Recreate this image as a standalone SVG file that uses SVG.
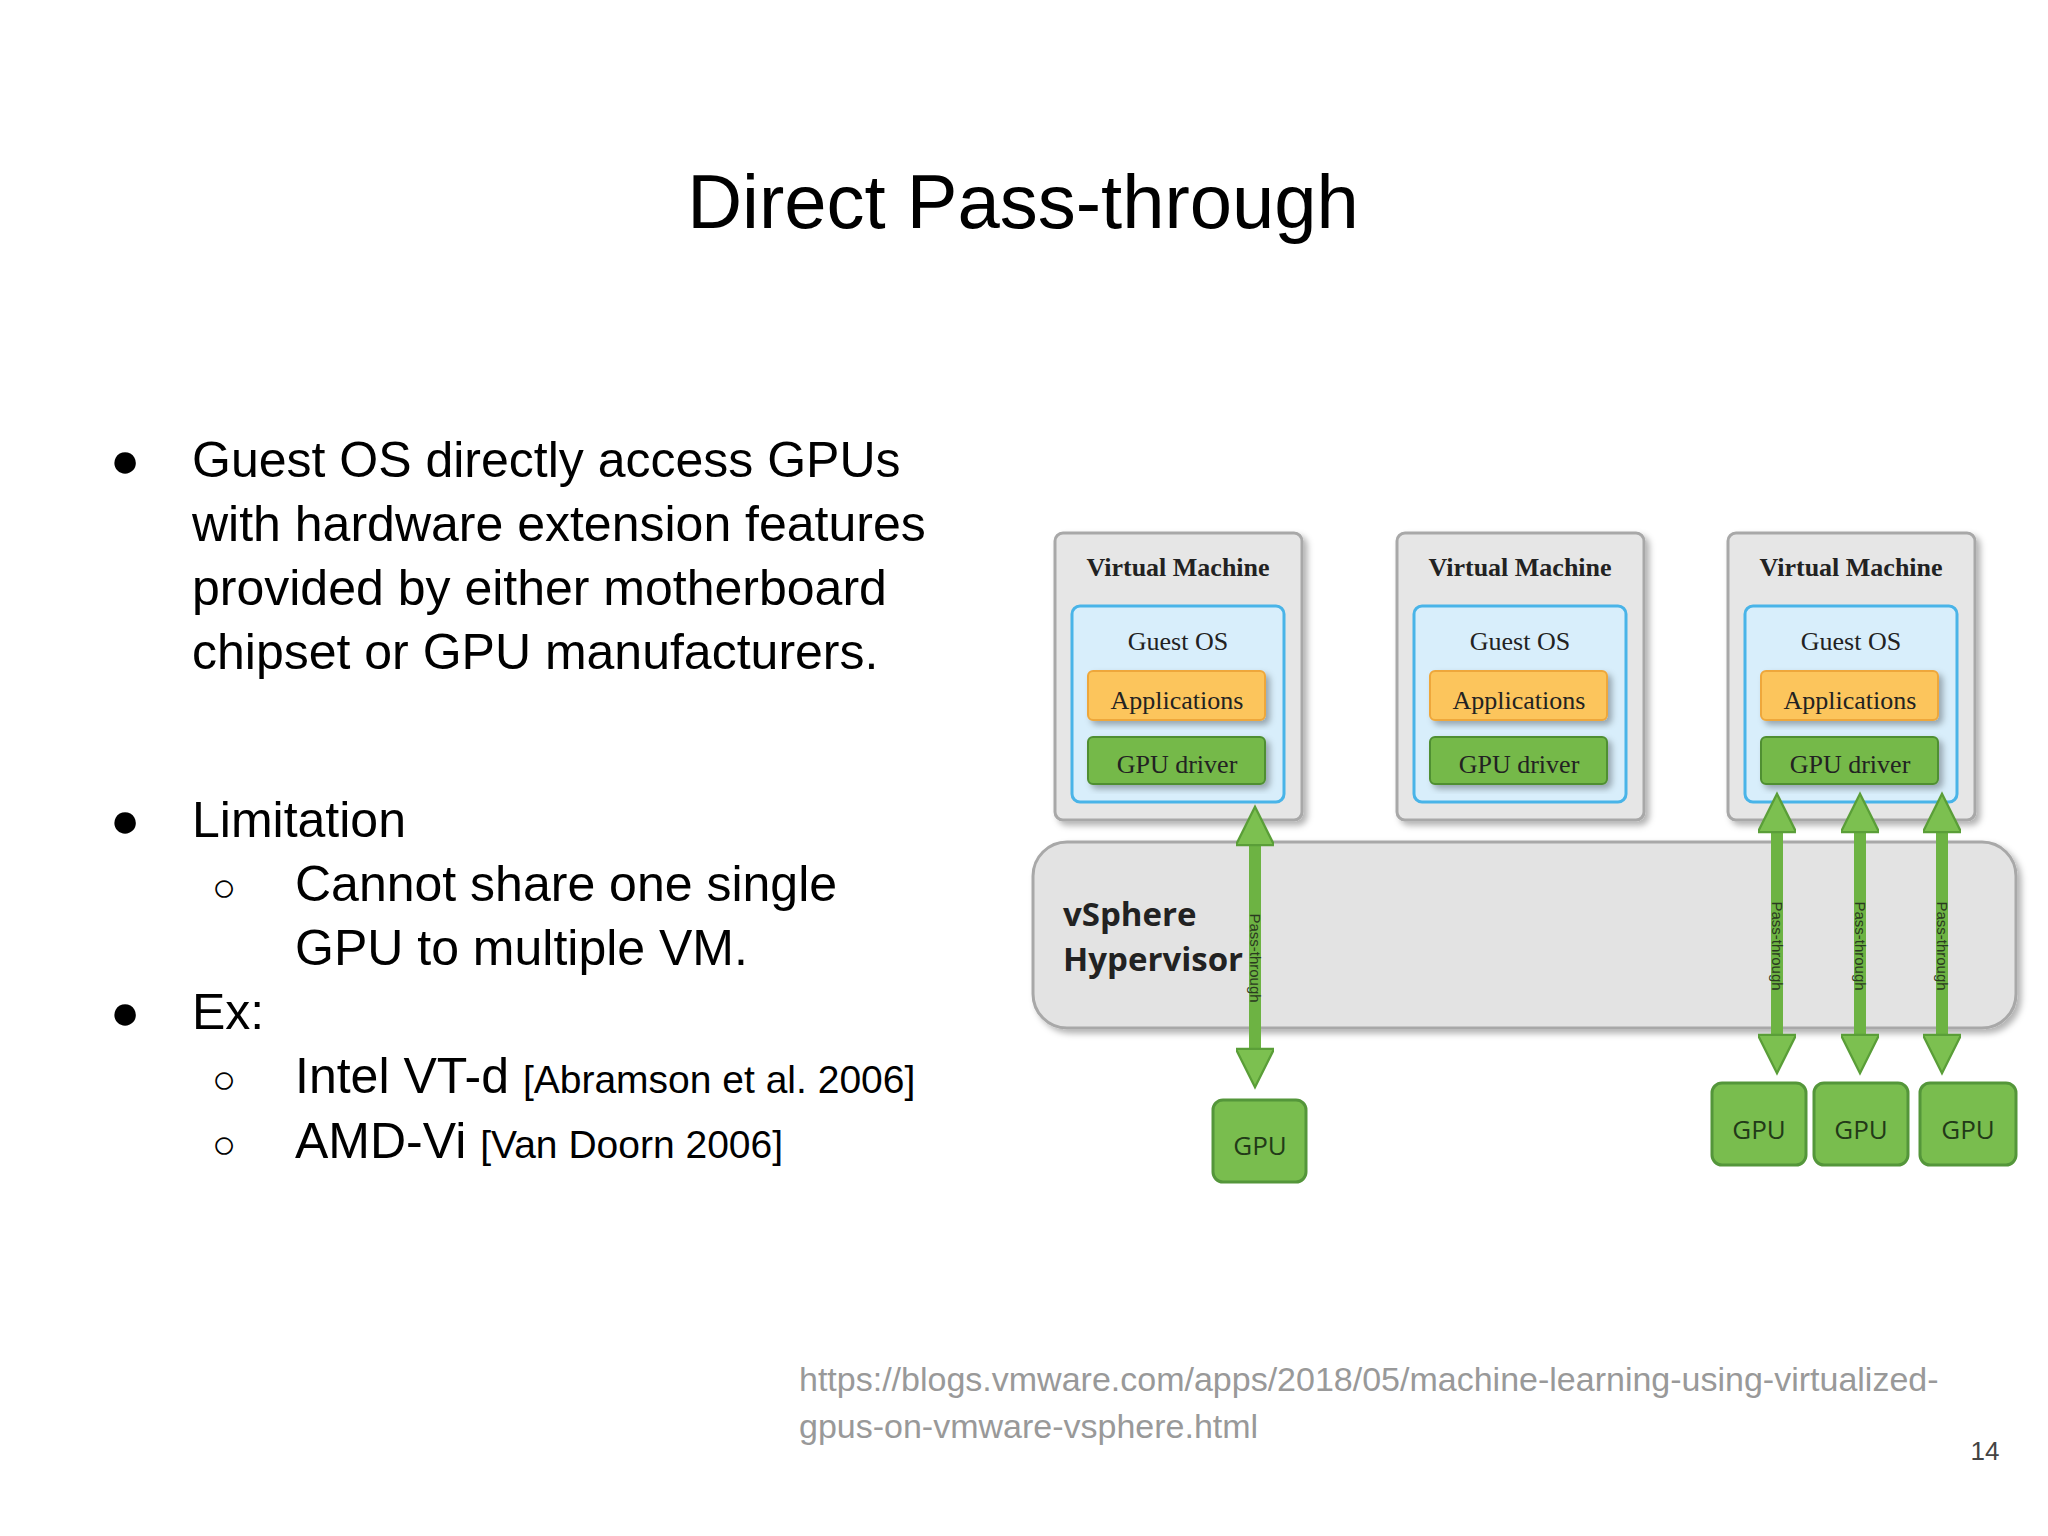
<svg xmlns="http://www.w3.org/2000/svg" width="2048" height="1536" viewBox="0 0 2048 1536">
<defs>
<filter id="sh" x="-10%" y="-10%" width="130%" height="130%"><feDropShadow dx="4" dy="4" stdDeviation="3" flood-color="#000" flood-opacity="0.3"/></filter>
<marker id="ah" viewBox="0 0 10 10" refX="5" refY="5" markerWidth="4" markerHeight="3.2" orient="auto-start-reverse" markerUnits="strokeWidth"><path d="M0,0 L10,5 L0,10 z" fill="#7cc050" stroke="#5a9e38" stroke-width="0.6"/></marker>
</defs>
<style>
.t{font-family:"Liberation Sans",Arial,sans-serif;fill:#000}
.b{font-size:50px}
.u{font-family:"Liberation Sans",Arial,sans-serif;font-size:34px;fill:#999}
.vm{fill:#e6e6e6;stroke:#a8a8a8;stroke-width:3}
.os{fill:#d8eefb;stroke:#49b4e8;stroke-width:3}
.app{fill:#fcc55c;stroke:#eea73a;stroke-width:2}
.drv{fill:#74b94a;stroke:#4f8f31;stroke-width:2}
.s{font-family:"Liberation Serif","Times New Roman",serif;font-size:26px;text-anchor:middle;fill:#222}
.gpu{fill:#79bd4e;stroke:#54963a;stroke-width:3}
.gt{font-family:"Open Sans","DejaVu Sans",sans-serif;font-size:26px;text-anchor:middle;fill:#223a18}
.pt{font-family:"Liberation Sans",Arial,sans-serif;font-size:15px;text-anchor:middle;fill:#2a3a20}
.ar{stroke:#6db343;stroke-width:12;marker-start:url(#ah);marker-end:url(#ah)}
</style>
<rect width="2048" height="1536" fill="#fff"/>
<text class="t" x="1023" y="228" font-size="76" text-anchor="middle">Direct Pass-through</text>
<g id="bullets" class="t b">
<text x="110" y="477">●</text>
<text x="192" y="477">Guest OS directly access  GPUs</text>
<text x="192" y="541">with hardware extension features</text>
<text x="192" y="605">provided by either motherboard</text>
<text x="192" y="669">chipset or GPU manufacturers.</text>
<text x="110" y="837">●</text>
<text x="192" y="837">Limitation</text>
<text x="212" y="901" font-size="40">○</text>
<text x="295" y="901">Cannot share  one  single</text>
<text x="295" y="965">GPU to multiple VM.</text>
<text x="110" y="1029">●</text>
<text x="192" y="1029">Ex:</text>
<text x="212" y="1093" font-size="40">○</text>
<text x="295" y="1093">Intel VT-d <tspan font-size="39">[Abramson et al. 2006]</tspan></text>
<text x="212" y="1158" font-size="40">○</text>
<text x="295" y="1158">AMD-Vi <tspan font-size="39">[Van Doorn 2006]</tspan></text>
</g>
<g id="hypervisor">
<rect x="1033" y="842" width="983" height="186" rx="34" fill="#e3e3e3" stroke="#a8a8a8" stroke-width="3" filter="url(#sh)"/>
<text x="1063" y="926" font-family="Open Sans,DejaVu Sans,sans-serif" font-size="33" font-weight="bold" fill="#222">vSphere</text>
<text x="1063" y="971" font-family="Open Sans,DejaVu Sans,sans-serif" font-size="33" font-weight="bold" fill="#222">Hypervisor</text>
</g>
<g id="vm1">
<rect class="vm" x="1055" y="533" width="247" height="287" rx="8" filter="url(#sh)"/>
<text class="s" x="1178" y="576" font-weight="bold">Virtual Machine</text>
<rect class="os" x="1072" y="606" width="212" height="196" rx="8"/>
<text class="s" x="1178" y="650">Guest OS</text>
<rect class="app" x="1088" y="671" width="177" height="49" rx="5" filter="url(#sh)"/>
<text class="s" x="1177" y="709">Applications</text>
<rect class="drv" x="1088" y="737" width="177" height="47" rx="5" filter="url(#sh)"/>
<text class="s" x="1177" y="773">GPU driver</text>
</g>
<g id="vm2">
<rect class="vm" x="1397" y="533" width="247" height="287" rx="8" filter="url(#sh)"/>
<text class="s" x="1520" y="576" font-weight="bold">Virtual Machine</text>
<rect class="os" x="1414" y="606" width="212" height="196" rx="8"/>
<text class="s" x="1520" y="650">Guest OS</text>
<rect class="app" x="1430" y="671" width="177" height="49" rx="5" filter="url(#sh)"/>
<text class="s" x="1519" y="709">Applications</text>
<rect class="drv" x="1430" y="737" width="177" height="47" rx="5" filter="url(#sh)"/>
<text class="s" x="1519" y="773">GPU driver</text>
</g>
<g id="vm3">
<rect class="vm" x="1728" y="533" width="247" height="287" rx="8" filter="url(#sh)"/>
<text class="s" x="1851" y="576" font-weight="bold">Virtual Machine</text>
<rect class="os" x="1745" y="606" width="212" height="196" rx="8"/>
<text class="s" x="1851" y="650">Guest OS</text>
<rect class="app" x="1761" y="671" width="177" height="49" rx="5" filter="url(#sh)"/>
<text class="s" x="1850" y="709">Applications</text>
<rect class="drv" x="1761" y="737" width="177" height="47" rx="5" filter="url(#sh)"/>
<text class="s" x="1850" y="773">GPU driver</text>
</g>
<g id="gpu1"><rect class="gpu" x="1213" y="1100" width="93" height="82" rx="10"/><text class="gt" x="1260" y="1155">GPU</text></g>
<g id="gpu2"><rect class="gpu" x="1712" y="1083" width="94" height="82" rx="10"/><text class="gt" x="1759" y="1139">GPU</text></g>
<g id="gpu3"><rect class="gpu" x="1814" y="1083" width="94" height="82" rx="10"/><text class="gt" x="1861" y="1139">GPU</text></g>
<g id="gpu4"><rect class="gpu" x="1920" y="1083" width="96" height="82" rx="10"/><text class="gt" x="1968" y="1139">GPU</text></g>
<g id="connectors">
<line class="ar" x1="1255" y1="826" x2="1255" y2="1068"/>
<line class="ar" x1="1777" y1="813" x2="1777" y2="1054"/>
<line class="ar" x1="1860" y1="813" x2="1860" y2="1054"/>
<line class="ar" x1="1942" y1="813" x2="1942" y2="1054"/>
<text class="pt" transform="translate(1250,958) rotate(90)">Pass-through</text>
<text class="pt" transform="translate(1772,946) rotate(90)">Pass-through</text>
<text class="pt" transform="translate(1855,946) rotate(90)">Pass-through</text>
<text class="pt" transform="translate(1937,946) rotate(90)">Pass-through</text>
</g>
<text class="u" x="799" y="1391">https://blogs.vmware.com/apps/2018/05/machine-learning-using-virtualized-</text>
<text class="u" x="799" y="1438">gpus-on-vmware-vsphere.html</text>
<text x="1985" y="1460" font-family="Liberation Sans,Arial,sans-serif" font-size="26" fill="#444" text-anchor="middle">14</text>
</svg>
